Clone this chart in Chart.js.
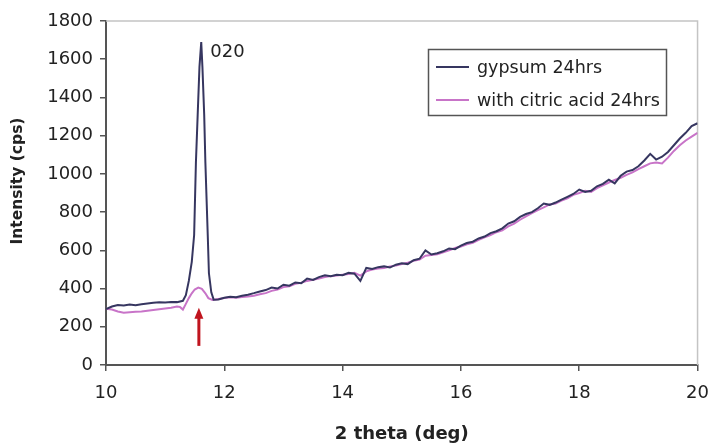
<!DOCTYPE html>
<html><head><meta charset="utf-8">
<script src="https://cdn.jsdelivr.net/npm/chart.js@4.4.0/dist/chart.umd.min.js"></script>
<style>html,body{margin:0;padding:0;background:#fff}#wrap{width:721px;height:445px}</style>
</head><body><div id="wrap"><canvas id="c" width="721" height="445"></canvas></div>
<script>
// ---- data ----
const seriesLabels = ['gypsum 24hrs', 'with citric acid 24hrs'];
const gypsumTheta = [10.0,10.1,10.2,10.3,10.4,10.5,10.6,10.7,10.8,10.9,11.0,11.1,11.2,11.3,
  11.35,11.4,11.45,11.49,11.52,11.55,11.58,11.61,11.63,11.66,11.68,11.72,11.74,11.78,11.82,
  11.9,12.0,12.1,12.2,12.3,12.4,12.5,12.6,12.7,12.8,12.9,13.0,13.1,13.2,13.3,13.4,13.5,13.6,13.7,13.8,13.9,
  14.0,14.1,14.2,14.3,14.4,14.5,14.6,14.7,14.8,14.9,15.0,15.1,15.2,15.3,15.4,15.5,15.6,15.7,15.8,15.9,
  16.0,16.1,16.2,16.3,16.4,16.5,16.6,16.7,16.8,16.9,17.0,17.1,17.2,17.3,17.4,17.5,17.6,17.7,17.8,17.9,
  18.0,18.1,18.2,18.3,18.4,18.5,18.6,18.7,18.8,18.9,19.0,19.1,19.2,19.3,19.4,19.5,19.6,19.7,19.8,19.9,20.0];
const gypsumCounts = [292,306,314,312,316,313,318,322,326,328,327,330,329,336,
  365,440,540,680,1060,1310,1560,1690,1560,1310,1060,680,480,380,342,
  343,352,357,355,362,368,376,385,392,405,400,420,415,432,428,452,445,460,470,465,472,
  470,482,478,440,508,502,512,516,510,525,532,528,548,556,600,578,585,595,610,606,
  625,638,645,662,672,690,700,715,740,752,775,790,800,820,845,838,850,865,880,895,
  918,905,912,935,948,970,950,990,1012,1020,1040,1070,1105,1075,1090,1115,1150,1185,1215,1250,1265];
const citricTheta = [10.0,10.1,10.2,10.3,10.4,10.5,10.6,10.7,10.8,10.9,11.0,11.1,11.2,
  11.25,11.3,11.35,11.4,11.45,11.5,11.56,11.62,11.68,11.73,11.8,
  11.9,12.0,12.1,12.2,12.3,12.4,12.5,12.6,12.7,12.8,12.9,13.0,13.1,13.2,13.3,13.4,13.5,13.6,13.7,13.8,13.9,
  14.0,14.1,14.2,14.3,14.4,14.5,14.6,14.7,14.8,14.9,15.0,15.1,15.2,15.3,15.4,15.5,15.6,15.7,15.8,15.9,
  16.0,16.1,16.2,16.3,16.4,16.5,16.6,16.7,16.8,16.9,17.0,17.1,17.2,17.3,17.4,17.5,17.6,17.7,17.8,17.9,
  18.0,18.1,18.2,18.3,18.4,18.5,18.6,18.7,18.8,18.9,19.0,19.1,19.2,19.3,19.4,19.5,19.6,19.7,19.8,19.9,20.0];
const citricCounts = [295,290,280,274,276,278,280,284,288,292,296,300,306,
  304,290,320,350,375,395,405,398,375,350,340,
  345,350,355,352,356,358,362,370,376,388,395,408,412,425,430,440,446,452,460,465,468,
  472,476,482,468,490,500,505,508,515,520,528,535,545,552,572,575,580,590,600,612,
  620,632,640,655,668,680,695,705,725,740,760,778,795,810,825,840,845,860,872,890,
  900,912,905,925,940,955,968,980,995,1008,1025,1040,1055,1060,1055,1085,1120,1150,1175,1195,1215];
const xTickValues = [10,12,14,16,18,20];
const yTickValues = [0,200,400,600,800,1000,1200,1400,1600,1800];
const peakLabel = '020';
const peakTheta = 11.61, peakTop = 1690;
const arrowTheta = 11.57, arrowTail = 100, arrowTip = 300;

// ---- styling ----
const FONT = '"DejaVu Sans", Verdana, sans-serif';
const C_GYP = '#363660';
const C_CIT = '#c874c8';
const AXIS = '#555555';

const overlay = {
  id: 'overlay',
  beforeDatasetsDraw(chart) {
    const {ctx, chartArea: a} = chart;
    ctx.save();
    ctx.strokeStyle = '#c4c4c4';
    ctx.lineWidth = 1.5;
    ctx.beginPath();
    ctx.moveTo(a.left, a.top); ctx.lineTo(a.right, a.top); ctx.lineTo(a.right, a.bottom);
    ctx.stroke();
    ctx.restore();
  },
  afterDraw(chart) {
    const {ctx, chartArea: a, scales: {x, y}} = chart;
    ctx.save();
    ctx.fillStyle = '#222';
    // axis titles
    ctx.font = 'bold 18px ' + FONT;
    ctx.textAlign = 'center'; ctx.textBaseline = 'middle';
    ctx.fillText('2 theta (deg)', (a.left + a.right) / 2, 434);
    ctx.save();
    ctx.translate(18, 181); ctx.rotate(-Math.PI / 2);
    ctx.font = 'bold 15.5px ' + FONT;
    ctx.fillText('Intensity (cps)', 0, 0);
    ctx.restore();
    // peak label
    ctx.font = '18px ' + FONT;
    ctx.textAlign = 'left';
    ctx.fillText(peakLabel, x.getPixelForValue(peakTheta) + 9, y.getPixelForValue(peakTop) + 10);
    // arrow
    const ax = x.getPixelForValue(arrowTheta);
    const yt = y.getPixelForValue(arrowTip), yb = y.getPixelForValue(arrowTail);
    ctx.strokeStyle = '#c0141e'; ctx.fillStyle = '#c0141e';
    ctx.lineWidth = 3;
    ctx.beginPath(); ctx.moveTo(ax, yb); ctx.lineTo(ax, yt + 9); ctx.stroke();
    ctx.beginPath(); ctx.moveTo(ax, yt); ctx.lineTo(ax - 4.5, yt + 11); ctx.lineTo(ax + 4.5, yt + 11); ctx.closePath(); ctx.fill();
    // legend
    const lx = 428.5, ly = 49.5, lw = 238, lh = 66;
    ctx.fillStyle = '#fff';
    ctx.fillRect(lx, ly, lw, lh);
    ctx.strokeStyle = AXIS; ctx.lineWidth = 1.5;
    ctx.strokeRect(lx, ly, lw, lh);
    const rows = [67, 100];
    chart.data.datasets.forEach((ds, i) => {
      ctx.strokeStyle = ds.borderColor; ctx.lineWidth = 2;
      ctx.beginPath(); ctx.moveTo(436, rows[i]); ctx.lineTo(469, rows[i]); ctx.stroke();
      ctx.fillStyle = '#222';
      ctx.font = '17.5px ' + FONT;
      ctx.textAlign = 'left'; ctx.textBaseline = 'middle';
      ctx.fillText(ds.label, 477, rows[i] + 1);
    });
    ctx.restore();
  }
};

const toPoints = (xs, ys) => xs.map((v, i) => ({x: v, y: ys[i]}));

new Chart(document.getElementById('c'), {
  type: 'line',
  data: {
    datasets: [
      {label: seriesLabels[0], data: toPoints(gypsumTheta, gypsumCounts), borderColor: C_GYP, borderWidth: 2, pointRadius: 0, tension: 0, fill: false},
      {label: seriesLabels[1], data: toPoints(citricTheta, citricCounts), borderColor: C_CIT, borderWidth: 2, pointRadius: 0, tension: 0, fill: false}
    ]
  },
  options: {
    responsive: false, animation: false, devicePixelRatio: 1,
    layout: {padding: {left: 0, right: 13, top: 21, bottom: 0}},
    plugins: {legend: {display: false}, tooltip: {enabled: false}},
    scales: {
      x: {
        type: 'linear', min: 10, max: 20,
        afterBuildTicks: s => { s.ticks = xTickValues.map(v => ({value: v})); },
        afterFit: s => { s.height = 80; },
        ticks: {font: {family: FONT, size: 18}, color: '#222', padding: 12, maxRotation: 0, callback: v => String(v)},
        grid: {drawOnChartArea: false, drawTicks: true, tickLength: 6, color: AXIS, lineWidth: 1.5},
        border: {display: true, color: AXIS, width: 2}
      },
      y: {
        type: 'linear', min: 0, max: 1800,
        afterBuildTicks: s => { s.ticks = yTickValues.map(v => ({value: v})); },
        afterFit: s => { s.width = 106; },
        ticks: {font: {family: FONT, size: 18}, color: '#222', padding: 7, callback: v => String(v)},
        grid: {drawOnChartArea: false, drawTicks: true, tickLength: 6, color: AXIS, lineWidth: 1.5},
        border: {display: true, color: AXIS, width: 2}
      }
    }
  },
  plugins: [overlay]
});
</script>
</body></html>
